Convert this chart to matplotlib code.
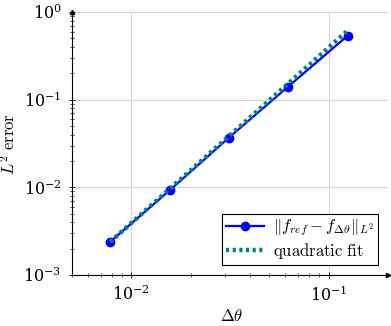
import numpy as np
import matplotlib
matplotlib.use('Agg')
import matplotlib.pyplot as plt

plt.rcParams['mathtext.fontset'] = 'cm'
plt.rcParams['font.family'] = 'serif'
plt.rcParams['font.serif'] = ['DejaVu Serif']

# data
dtheta = [1 / 128, 1 / 64, 1 / 32, 1 / 16, 1 / 8]
l2_err = [0.0024, 0.00925, 0.037, 0.1415, 0.538]
fit_coef = 39.3
fit_x = [1 / 128, 1 / 8]

fig = plt.figure(figsize=(3.91, 3.26), dpi=100)
ax = fig.add_axes([0.184, 0.156, 0.808, 0.807])

ax.set_xscale('log')
ax.set_yscale('log')
ax.set_xlim(0.005, 0.2)
ax.set_ylim(1e-3, 1)

fx = np.array(fit_x)
ax.plot(dtheta, l2_err, color='blue', lw=1.6, marker='o', ms=6,
        label=r'$\|f_{ref} - f_{\Delta\theta}\|_{L^2}$', zorder=3)
ax.plot(fx, fit_coef * fx**2, color='#008080', lw=3.2, ls=(0, (0.7, 0.8)),
        label=r'$\mathrm{quadratic\ fit}$', zorder=4)

# pgfplots-like axis lines
for s in ['top', 'right']:
    ax.spines[s].set_visible(False)
ax.spines['left'].set_linewidth(0.8)
ax.spines['bottom'].set_linewidth(0.8)
ax.plot(1, 0, '>k', ms=3, transform=ax.transAxes, clip_on=False)
ax.plot(0, 1, '^k', ms=3, transform=ax.transAxes, clip_on=False)

ax.grid(True, which='major', color='#d8d8d8', lw=0.8)
ax.set_axisbelow(True)
ax.tick_params(which='major', direction='inout', length=5, width=0.6,
               labelsize=11.5, pad=5)
ax.tick_params(which='minor', direction='inout', length=3, width=0.5)
ax.xaxis.set_major_locator(matplotlib.ticker.LogLocator(base=10, numticks=10))
ax.yaxis.set_major_locator(matplotlib.ticker.LogLocator(base=10, numticks=10))

ax.set_xlabel(r'$\Delta\theta$', fontsize=12)
ax.set_ylabel(r'$L^2\ \mathrm{error}$', fontsize=12)
ax.xaxis.set_label_coords(0.506, -0.125)
ax.yaxis.set_label_coords(-0.166, 0.5)

leg = ax.legend(loc='lower right', fontsize=12, frameon=True, fancybox=False,
                edgecolor='black', framealpha=1, borderpad=0.25,
                handlelength=2.3, handletextpad=0.5, labelspacing=0.15,
                borderaxespad=0.6)
leg.get_frame().set_linewidth(0.8)

fig.savefig('out.png', dpi=100)
